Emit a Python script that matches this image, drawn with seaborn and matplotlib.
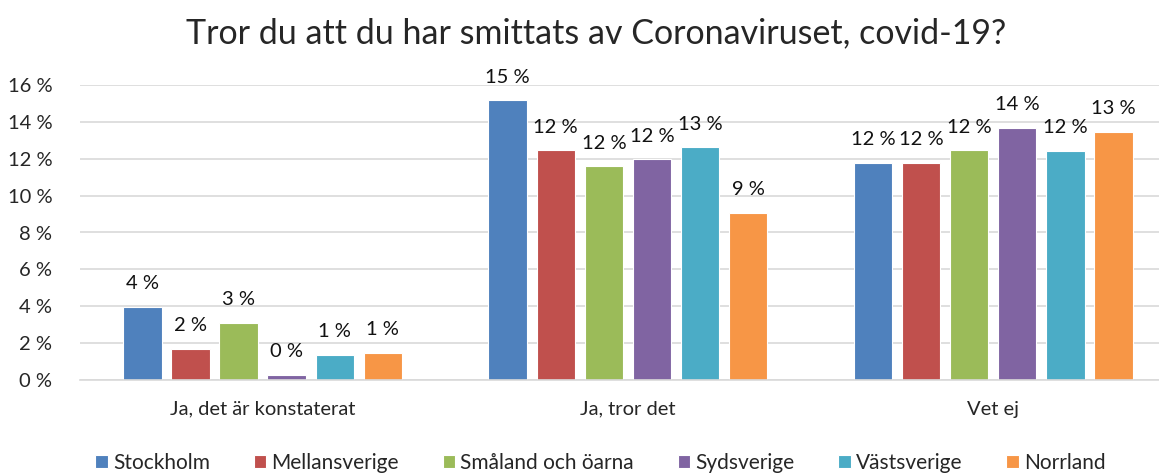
import numpy as np
import pandas as pd
import matplotlib as mpl
import matplotlib.pyplot as plt
import seaborn as sns

kategorier = ["Ja, det är konstaterat", "Ja, tror det", "Vet ej"]
regioner = ["Stockholm", "Mellansverige", "Småland och öarna",
            "Sydsverige", "Västsverige", "Norrland"]
farger = ["#4F81BD", "#C0504D", "#9BBB59", "#8064A2", "#4BACC6", "#F79646"]

# andel i procent, en lista per region (samma ordning som kategorier)
stockholm = [3.96, 15.18, 11.77]
mellansverige = [1.68, 12.47, 11.77]
smaland = [3.09, 11.60, 12.47]
sydsverige = [0.27, 11.98, 13.67]
vastsverige = [1.36, 12.63, 12.42]
norrland = [1.48, 9.06, 13.45]

serier = [stockholm, mellansverige, smaland, sydsverige, vastsverige, norrland]
df = pd.DataFrame(
    [(k, r, v) for r, vals in zip(regioner, serier) for k, v in zip(kategorier, vals)],
    columns=["kategori", "region", "andel"],
)

sns.set_style("white")
plt.rcParams["font.family"] = ["Lato", "DejaVu Sans"]

fig = plt.figure(figsize=(11.59, 4.73), dpi=100)
ax = fig.add_axes([80 / 1159, 1 - 380 / 473, 1 - 80 / 1159, (380 - 85) / 473])

sns.barplot(data=df, x="kategori", y="andel", hue="region", order=kategorier,
            hue_order=regioner, palette=farger, saturation=1, width=0.79, gap=0.2,
            edgecolor="white", linewidth=0.8, ax=ax)

for cont in ax.containers:
    ax.bar_label(cont, labels=[f"{int(b.get_height() + 0.5)} %" for b in cont],
                 padding=10.5, fontsize=14.5, color="#111111")

ax.set_ylim(0, 16)
ax.set_xlim(-0.5, 2.454)
ax.set_yticks(np.arange(0, 17, 2))
ax.set_yticklabels([f"{t} %" for t in range(0, 17, 2)], fontsize=14.5)
ax.tick_params(axis="y", length=0, pad=20)
ax.tick_params(axis="x", length=0, pad=15, labelsize=14.5)
ax.set_xlabel("")
ax.set_ylabel("")
ax.grid(axis="y", color="#D9D9D9", linewidth=1.2)
ax.set_axisbelow(True)
for s in ["top", "right", "left"]:
    ax.spines[s].set_visible(False)
ax.spines["bottom"].set_color("#D9D9D9")
ax.spines["bottom"].set_linewidth(1.2)

handles, labels = ax.get_legend_handles_labels()
ax.legend_.remove()
fig.legend(handles, labels, loc="center", bbox_to_anchor=(0.518, 1 - 463 / 473),
           ncol=6, frameon=False, fontsize=15, handlelength=0.6, handleheight=0.6,
           handletextpad=0.25, columnspacing=2.1)

fig.text(596 / 1159, 1 - 33 / 473, "Tror du att du har smittats av Coronaviruset, covid-19?",
         ha="center", va="center", fontsize=24.5)

fig.savefig("out.png", dpi=100)
